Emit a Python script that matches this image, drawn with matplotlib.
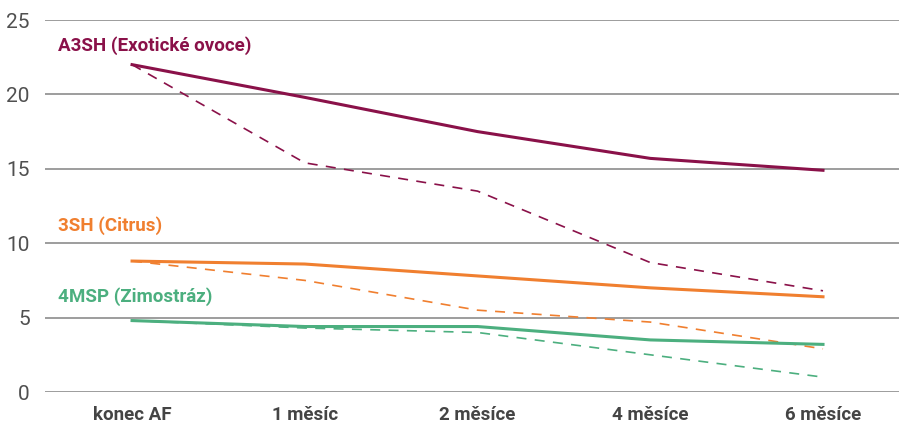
import matplotlib
matplotlib.use('Agg')
import matplotlib.pyplot as plt

kategorie = ['konec AF', '1 měsíc', '2 měsíce', '4 měsíce', '6 měsíce']
a3sh_plna = [22.0, 19.8, 17.5, 15.7, 14.9]
a3sh_carkovana = [22.0, 15.4, 13.5, 8.7, 6.8]
sh3_plna = [8.8, 8.6, 7.8, 7.0, 6.4]
sh3_carkovana = [8.8, 7.5, 5.5, 4.7, 2.9]
msp4_plna = [4.8, 4.4, 4.4, 3.5, 3.2]
msp4_carkovana = [4.8, 4.3, 4.0, 2.5, 1.0]
nazvy = ['A3SH (Exotické ovoce)', '3SH (Citrus)', '4MSP (Zimostráz)']
barvy = ['#8a1149', '#f07f2f', '#4caf7f']
y_popisku = [23.3, 11.15, 6.4]

plt.rcParams['font.family'] = ['Roboto', 'DejaVu Sans']

fig = plt.figure(figsize=(8.99, 4.25), dpi=100)
ax = fig.add_axes([45 / 899, 1 - 392 / 425, 1 - 45 / 899, 372 / 425])

x = list(range(len(kategorie)))
plne = [a3sh_plna, sh3_plna, msp4_plna]
carkovane = [a3sh_carkovana, sh3_carkovana, msp4_carkovana]
for i in range(3):
    ax.plot(x, carkovane[i], color=barvy[i], lw=1.2, dashes=(6, 5), zorder=3)
    ax.plot(x, plne[i], color=barvy[i], lw=2.2, zorder=4)
    ax.text(-0.43, y_popisku[i], nazvy[i], color=barvy[i], fontsize=13.5,
            fontweight='bold', va='center', ha='left')

ax.set_ylim(0, 25)
ax.set_xlim(-0.504, 4.44)
ax.set_yticks([0, 5, 10, 15, 20, 25])
ax.grid(axis='y', color='#8c8c8c', lw=1.2)
ax.set_axisbelow(True)
for s in ax.spines.values():
    s.set_visible(False)
ax.tick_params(length=0)
ax.tick_params(axis='y', labelsize=15, labelcolor='#505050', pad=11)
ax.set_xticks(x)
ax.set_xticklabels(kategorie, fontsize=13.5, fontweight='bold', color='#444444')
ax.tick_params(axis='x', pad=10)

fig.savefig('out.png', dpi=100)
